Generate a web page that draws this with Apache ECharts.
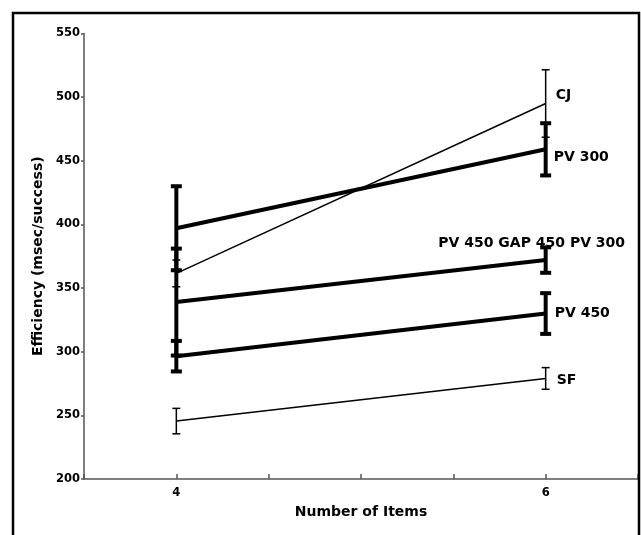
<!DOCTYPE html>
<html>
<head>
<meta charset="utf-8">
<script src="https://cdn.jsdelivr.net/npm/echarts@6/dist/echarts.min.js"></script>
<style>
  html, body { margin: 0; padding: 0; background: #fff; }
  #chart { width: 641px; height: 535px; }
</style>
</head>
<body>
<div id="chart"></div>
<script>
// Number of items shown on the x axis
const items = [4, 6];

// Mean efficiency (msec/success) per condition
const cjMean = [361.5, 495];
const pv300Mean = [397, 459];
const mixedMean = [339, 372];
const pv450Mean = [296.5, 330];
const sfMean = [245.5, 279];

// Half-width of each error bar
const cjErr = [10.5, 26.5];
const pv300Err = [33, 20.5];
const mixedErr = [42, 10];
const pv450Err = [12, 16];
const sfErr = [10, 8.5];

// Axis tick values
const yTicks = [200, 250, 300, 350, 400, 450, 500, 550];
const xLabelled = [4, 6];

const FONT = '"DejaVu Sans"';

const groups = [
  { name: 'CJ', mean: cjMean, err: cjErr, thick: false, lab: { distance: 5, offset: [5, -8.5] } },
  { name: 'PV 300', mean: pv300Mean, err: pv300Err, thick: true, lab: { distance: 5, offset: [3, 8.5] } },
  { name: 'PV 450 GAP 450 PV 300', mean: mixedMean, err: mixedErr, thick: true, lab: { distance: 0, offset: [-14, -17], align: 'center' } },
  { name: 'PV 450', mean: pv450Mean, err: pv450Err, thick: true, lab: { distance: 5, offset: [4, 0] } },
  { name: 'SF', mean: sfMean, err: sfErr, thick: false, lab: { distance: 5, offset: [6, 1.5] } }
];

function errorBarRenderer(thick) {
  const lw = thick ? 4 : 1.5;
  const capHalf = thick ? 5.5 : 4;
  return function (params, api) {
    const x = api.value(0);
    const top = api.coord([x, api.value(2)]);
    const bot = api.coord([x, api.value(1)]);
    const style = { stroke: '#000', lineWidth: lw, fill: null };
    return {
      type: 'group',
      children: [
        { type: 'line', shape: { x1: top[0], y1: top[1], x2: bot[0], y2: bot[1] }, style: style },
        { type: 'line', shape: { x1: top[0] - capHalf, y1: top[1], x2: top[0] + capHalf, y2: top[1] }, style: style },
        { type: 'line', shape: { x1: bot[0] - capHalf, y1: bot[1], x2: bot[0] + capHalf, y2: bot[1] }, style: style }
      ]
    };
  };
}

const series = [];
groups.forEach(function (g) {
  series.push({
    name: g.name + ' error',
    type: 'custom',
    renderItem: errorBarRenderer(g.thick),
    data: items.map(function (x, i) { return [x, g.mean[i] - g.err[i], g.mean[i] + g.err[i]]; }),
    encode: { x: 0, y: [1, 2] },
    z: 2,
    silent: true
  });
  series.push({
    name: g.name,
    type: 'line',
    data: items.map(function (x, i) { return [x, g.mean[i]]; }),
    symbol: 'none',
    lineStyle: { color: '#000', width: g.thick ? 4 : 1.5 },
    z: 3,
    silent: true,
    endLabel: Object.assign({
      show: true,
      formatter: g.name,
      color: '#000',
      fontFamily: FONT,
      fontWeight: 'bold',
      fontSize: 14
    }, g.lab)
  });
});

const chart = echarts.init(document.getElementById('chart'), null, { renderer: 'canvas' });
chart.setOption({
  animation: false,
  backgroundColor: '#fff',
  grid: { left: 84, right: 3, top: 33.5, bottom: 56 },
  xAxis: {
    type: 'value',
    min: 3.5,
    max: 6.5,
    interval: 0.5,
    name: 'Number of Items',
    nameLocation: 'middle',
    nameGap: 26,
    nameTextStyle: { fontFamily: FONT, fontWeight: 'bold', fontSize: 14, color: '#000' },
    axisLine: { lineStyle: { color: '#555', width: 1.5 } },
    axisTick: { inside: true, length: 5, lineStyle: { color: '#555', width: 1.5 } },
    axisLabel: {
      margin: 8,
      fontFamily: FONT, fontWeight: 'bold', fontSize: 11.5, color: '#000',
      formatter: function (v) { return xLabelled.indexOf(v) >= 0 ? String(v) : ''; }
    },
    splitLine: { show: false }
  },
  yAxis: {
    type: 'value',
    min: yTicks[0],
    max: yTicks[yTicks.length - 1],
    interval: 50,
    name: 'Efficiency (msec/success)',
    nameLocation: 'middle',
    nameGap: 39,
    nameTextStyle: { fontFamily: FONT, fontWeight: 'bold', fontSize: 14, color: '#000' },
    axisLine: { show: true, lineStyle: { color: '#555', width: 1.5 } },
    axisTick: { show: true, length: 3, lineStyle: { color: '#555', width: 1.5 } },
    axisLabel: { margin: 4, fontFamily: FONT, fontWeight: 'bold', fontSize: 11.5, color: '#000' },
    splitLine: { show: false }
  },
  graphic: [
    {
      type: 'rect',
      shape: { x: 13, y: 13, width: 626, height: 540 },
      style: { fill: null, stroke: '#000', lineWidth: 2.5 },
      silent: true,
      z: 100
    }
  ],
  series: series
});
</script>
</body>
</html>
